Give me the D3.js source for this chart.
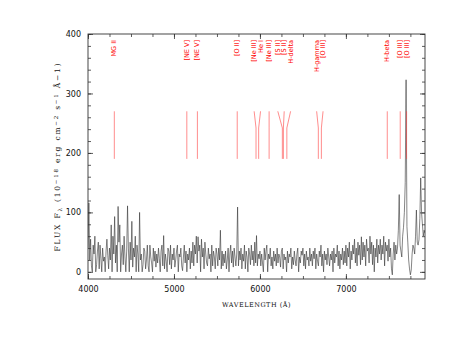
<!doctype html>
<html>
<head>
<meta charset="utf-8">
<title>Spectrum</title>
<script src="https://d3js.org/d3.v7.min.js"></script>
<style>
  body { margin: 0; background: #fff; }
</style>
</head>
<body>
<div id="chart"></div>
<script>
// observed spectrum, one value every 10 A starting at 4000 A
var waveStart = 4000;
var waveStep = 10;
var flux = [
  40, 116, 20, 55, 10, 0, 45, 30, 60, 0, 12, 35, 50, 5, 45, 22, 0, 40, 18, 25,
  0, 35, 55, 28, 5, 40, 20, 79, 0, 60, 30, 93, 15, 45, 0, 110, 50, 79, 0, 30,
  45, 12, 60, 25, 0, 35, 111, 40, 0, 50, 20, 85, 8, 40, 25, 60, 0, 45, 30, 0,
  100, 20, 30, 0, 12, 40, 35, 5, 20, 45, 10, 0, 45, 25, 15, 0, 40, 18, 35, 8,
  30, 15, 40, 22, 0, 35, 45, 10, 61, 5, 30, 18, 0, 40, 35, 12, 45, 5, 30, 20,
  40, 8, 20, 35, 45, 0, 30, 25, 40, 10, 2, 25, 45, 15, 35, 0, 30, 20, 40, 5,
  35, 15, 50, 10, 45, 30, 60, 15, 59, 35, 45, 0, 55, 25, 40, 5, 50, 30, 15, 10,
  40, 22, 30, 0, 45, 10, 35, 25, 5, 40, 30, 10, 40, 20, 70, 5, 35, 10, 30, 15,
  35, 5, 20, 40, 0, 30, 45, 15, 35, 8, 40, 25, 10, 30, 109, 10, 35, 20, 40, 5,
  30, 18, 45, 5, 35, 25, 0, 40, 30, 12, 45, 20, 35, 10, 50, 15, 61, 10, 30, 22,
  35, 10, 30, 15, 0, 40, 20, 35, 45, 0, 30, 22, 40, 10, 25, 5, 35, 18, 30, 10,
  40, 15, 30, 25, 8, 35, 40, 5, 30, 20, 25, 0, 35, 15, 30, 25, 40, 5, 25, 12,
  35, 20, 10, 30, 40, 0, 25, 15, 35, 28, 40, 10, 30, 5, 35, 20, 25, 10, 40, 18,
  30, 10, 35, 22, 40, 5, 30, 18, 10, 35, 25, 45, 10, 30, 0, 35, 20, 30, 12, 40,
  25, 10, 30, 20, 35, 0, 40, 15, 30, 25, 45, 10, 35, 5, 30, 20, 40, 12, 35, 15,
  45, 10, 40, 25, 50, 5, 35, 20, 45, 30, 55, 15, 40, 10, 50, 28, 45, 12, 59, 20,
  50, 25, 45, 10, 55, 35, 40, 15, 60, 30, 50, 12, 45, 0, 40, 25, 55, 15, 45, 30,
  55, 20, 45, 30, 60, 10, 50, 35, 45, 18, 55, 25, 40, 5, -5, 30, 50, 20, 45, 30,
  40, 70, 130, 45, 35, 25, 60, 75, 100, 150, 323, 76, 50, 20, 5, -5, 3, 30, 45, 40,
  30, 60, 104, 50, 45, 54, 90, 158, 100, 80, 60, 70, 65
];

// emission lines (rest wavelengths) marked at the source redshift
var lineNames = ["MG II", "[NE V]", "[NE V]", "[O II]", "[Ne III]", "He I", "[Ne III]",
                 "[S II]", "[S II]", "H-delta", "H-gamma", "[O III]", "H-beta", "[O III]", "[O III]"];
var lineRest = [2798, 3346, 3426, 3727, 3869, 3889, 3968, 4068, 4076, 4102, 4340, 4363, 4861, 4959, 5007];
var redshift = 0.539;
var markerFlux = [270, 242, 190];   // top, bend, bottom of the marker ticks

var xDomain = [4000, 7920];
var yDomain = [-12, 400];
var xMajor = [4000, 5000, 6000, 7000];
var yMajor = [0, 100, 200, 300, 400];

var width = 458, height = 354;
var margin = {top: 34, right: 33, bottom: 75, left: 88};

var svg = d3.select("#chart").append("svg")
    .attr("width", width)
    .attr("height", height)
    .style("font-family", "DejaVu Sans, sans-serif");

var x = d3.scaleLinear().domain(xDomain).range([margin.left, width - margin.right]);
var y = d3.scaleLinear().domain(yDomain).range([height - margin.bottom, margin.top]);

var plotLeft = x.range()[0], plotRight = x.range()[1];
var plotBottom = y.range()[0], plotTop = y.range()[1];

svg.append("clipPath").attr("id", "plot")
  .append("rect")
    .attr("x", plotLeft).attr("y", plotTop)
    .attr("width", plotRight - plotLeft)
    .attr("height", plotBottom - plotTop);

// spectrum
var line = d3.line()
    .x(function(d, i) { return x(waveStart + i * waveStep); })
    .y(function(d) { return y(d); });

svg.append("path")
    .datum(flux)
    .attr("clip-path", "url(#plot)")
    .attr("fill", "none")
    .attr("stroke", "#333")
    .attr("stroke-width", 0.6)
    .attr("d", line);

// label positions: push apart labels that would touch
function spreadLabels(xs, gap) {
  var groups = xs.map(function(v, i) { return {idx: [i], c: v}; });
  var merged = true;
  while (merged) {
    merged = false;
    for (var i = 0; i < groups.length - 1; i++) {
      var a = groups[i], b = groups[i + 1];
      var aRight = a.c + (a.idx.length - 1) * gap / 2;
      var bLeft = b.c - (b.idx.length - 1) * gap / 2;
      if (bLeft - aRight < gap) {
        var idx = a.idx.concat(b.idx);
        groups.splice(i, 2, {idx: idx, c: d3.mean(idx, function(k) { return xs[k]; })});
        merged = true;
        break;
      }
    }
  }
  var out = [];
  groups.forEach(function(g) {
    g.idx.forEach(function(k, j) { out[k] = g.c + (j - (g.idx.length - 1) / 2) * gap; });
  });
  return out;
}

var lineX = lineRest.map(function(w) { return x(w * (1 + redshift)); });
var labelX = spreadLabels(lineX, 6.4);

var marks = svg.append("g").attr("class", "lines");
lineNames.forEach(function(name, i) {
  marks.append("path")
      .attr("fill", "none")
      .attr("stroke", "#ff4040")
      .attr("stroke-width", 0.6)
      .attr("d", "M" + labelX[i] + "," + y(markerFlux[0]) +
                 "L" + lineX[i] + "," + y(markerFlux[1]) +
                 "L" + lineX[i] + "," + y(markerFlux[2]));
  marks.append("text")
      .attr("transform", "translate(" + labelX[i] + "," + (plotTop + 6) + ") rotate(-90)")
      .attr("text-anchor", "end")
      .attr("dominant-baseline", "central")
      .attr("fill", "#ff0000")
      .style("font-size", "6.5px")
      .text(name);
});

// axes with inward ticks on all four sides
function ticks(axis, values, size, showLabels) {
  return axis.tickValues(values).tickSize(-size).tickPadding(7)
    .tickFormat(showLabels ? d3.format("d") : "");
}
var xMinor = d3.range(4000, 7920, 250);
var yMinor = d3.range(0, 401, 20);

var axes = [
  [d3.axisBottom(x), xMinor, 3, false, "translate(0," + plotBottom + ")"],
  [d3.axisBottom(x), xMajor, 5, true, "translate(0," + plotBottom + ")"],
  [d3.axisTop(x), xMinor, 3, false, "translate(0," + plotTop + ")"],
  [d3.axisTop(x), xMajor, 5, false, "translate(0," + plotTop + ")"],
  [d3.axisLeft(y), yMinor, 3, false, "translate(" + plotLeft + ",0)"],
  [d3.axisLeft(y), yMajor, 5, true, "translate(" + plotLeft + ",0)"],
  [d3.axisRight(y), yMinor, 3, false, "translate(" + plotRight + ",0)"],
  [d3.axisRight(y), yMajor, 5, false, "translate(" + plotRight + ",0)"]
];
axes.forEach(function(a) {
  var g = svg.append("g")
      .attr("transform", a[4])
      .call(ticks(a[0], a[1], a[2], a[3]));
  g.select(".domain").remove();
  g.selectAll("line").attr("stroke", "#333").attr("stroke-width", 0.8);
  g.selectAll("text").attr("fill", "#111")
      .style("font-size", "8px")
      .style("font-family", "DejaVu Sans, sans-serif");
});

svg.append("rect")
    .attr("x", plotLeft).attr("y", plotTop)
    .attr("width", plotRight - plotLeft).attr("height", plotBottom - plotTop)
    .attr("fill", "none")
    .attr("stroke", "#333")
    .attr("stroke-width", 0.9);

// axis titles
svg.append("text")
    .attr("x", (plotLeft + plotRight) / 2)
    .attr("y", plotBottom + 28)
    .attr("text-anchor", "middle")
    .style("font-family", "DejaVu Serif, serif")
    .style("font-size", "6.5px")
    .style("letter-spacing", "0.5px")
    .attr("fill", "#111")
    .text("WAVELENGTH (\u00C5)");

var ylab = svg.append("text")
    .attr("transform", "translate(" + (plotLeft - 28) + "," + ((plotTop + plotBottom) / 2) + ") rotate(-90)")
    .attr("text-anchor", "middle")
    .style("font-family", "DejaVu Serif, serif")
    .style("font-size", "7.5px")
    .style("letter-spacing", "1.8px")
    .attr("fill", "#111");
ylab.append("tspan").text("FLUX F");
ylab.append("tspan").attr("dy", 1.5).style("font-size", "5.5px").text("\u03BB");
ylab.append("tspan").attr("dy", -1.5).text(" (10");
ylab.append("tspan").attr("dy", -2.5).style("font-size", "5.5px").text("\u221218");
ylab.append("tspan").attr("dy", 2.5).text(" erg cm");
ylab.append("tspan").attr("dy", -2.5).style("font-size", "5.5px").text("\u22122");
ylab.append("tspan").attr("dy", 2.5).text(" s");
ylab.append("tspan").attr("dy", -2.5).style("font-size", "5.5px").text("\u22121");
ylab.append("tspan").attr("dy", 2.5).text(" \u00C5\u22121)");
</script>
</body>
</html>
